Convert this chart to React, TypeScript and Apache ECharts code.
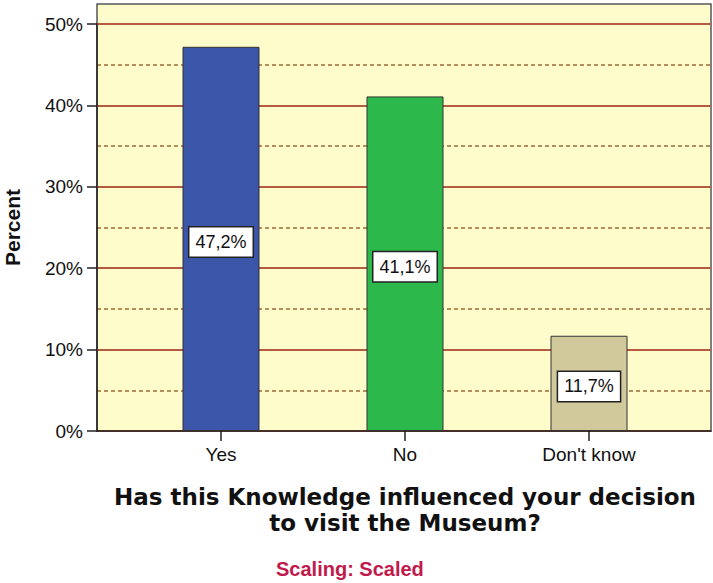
import React, { useEffect, useRef } from "react";
import * as echarts from "echarts";

const categories = ["Yes", "No", "Don't know"];
const percentValues = [47.2, 41.1, 11.7];
const barColors = ["#3b56a8", "#2db84b", "#d1c99c"];
const yMax = 50;
const yMajorStep = 10;
const yMinorStep = 5;
const axisTitle = "Has this Knowledge influenced your decision\nto visit the Museum?";
const yTitle = "Percent";
const footnote = "Scaling: Scaled";

const FONT = "'Liberation Sans', Arial, sans-serif";

export default function App() {
  const ref = useRef<HTMLDivElement>(null);
  useEffect(() => {
    document.body.style.margin = "0";
    if (!ref.current) return;
    const chart = echarts.init(ref.current, undefined, { renderer: "svg" });
    const plotBottom = 152;
    const g = { outerBoundsMode: "none", containLabel: false };
    const option: any = {
      animation: false,
      textStyle: { fontFamily: FONT },
      grid: [
        // background frame (extends above 50%)
        { ...g, left: 97, right: 2, top: 4, bottom: plotBottom, show: true, backgroundColor: "#fefccb", borderColor: "#555", borderWidth: 1.5 },
        // minor (dashed) grid lines 0..50
        { ...g, left: 97, right: 2, top: 24, bottom: plotBottom, show: false },
        // major grid lines + labels 0..50
        { ...g, left: 97, right: 2, top: 24, bottom: plotBottom, show: false },
        // bars grid
        { ...g, left: 129, right: 32, top: 24, bottom: plotBottom, show: false },
      ],
      xAxis: [
        { gridIndex: 0, type: "value", show: false },
        { gridIndex: 1, type: "value", show: false },
        { gridIndex: 2, type: "value", min: 0, max: 1, axisLabel: { show: false }, axisTick: { show: false }, splitLine: { show: false }, axisLine: { show: true, lineStyle: { color: "#222", width: 1.5 } } },
        {
          gridIndex: 3,
          type: "category",
          data: categories,
          axisLine: { show: false },
          axisTick: { show: true, alignWithLabel: true, length: 10, lineStyle: { color: "#222", width: 1.5 } },
          axisLabel: { color: "#111", fontSize: 19, fontFamily: FONT, margin: 14 },
          name: axisTitle,
          nameLocation: "middle",
          nameGap: 53,
          nameTextStyle: { fontFamily: "'DejaVu Sans', Verdana, sans-serif", fontWeight: "bold", fontSize: 23, color: "#111", lineHeight: 26, align: "center" },
        },
      ],
      yAxis: [
        { gridIndex: 0, type: "value", min: 0, max: 1, show: false },
        {
          gridIndex: 1,
          type: "value",
          min: 0,
          max: yMax,
          interval: yMinorStep,
          axisLine: { show: false },
          axisTick: { show: false },
          axisLabel: { show: false },
          splitLine: { show: true, lineStyle: { color: "#a0683a", width: 1.5, type: [4, 3] } },
        },
        {
          gridIndex: 2,
          type: "value",
          min: 0,
          max: yMax,
          interval: yMajorStep,
          axisLine: { show: true, lineStyle: { color: "#222", width: 1.5 } },
          axisTick: { show: true, length: 10, lineStyle: { color: "#222", width: 1.5 } },
          axisLabel: { color: "#111", fontSize: 19, fontFamily: FONT, margin: 14, formatter: (v: number) => v + "%" },
          splitLine: { show: true, lineStyle: { color: "#b35a40", width: 2 } },
          name: yTitle,
          nameLocation: "middle",
          nameRotate: 90,
          nameGap: 74,
          nameTextStyle: { fontFamily: FONT, fontWeight: "bold", fontSize: 21, color: "#111" },
        },
        { gridIndex: 3, type: "value", min: 0, max: yMax, show: false },
      ],
      series: [
        {
          type: "bar",
          xAxisIndex: 3,
          yAxisIndex: 3,
          barWidth: 77,
          data: percentValues.map((v, i) => ({
            value: v,
            itemStyle: { color: barColors[i], borderColor: "#333", borderWidth: 1 },
          })),
          label: {
            show: true,
            position: "inside",
            formatter: (p: any) => p.value.toFixed(1).replace(".", ",") + "%",
            backgroundColor: "#ffffff",
            borderColor: "#222",
            borderWidth: 1.5,
            padding: [6, 6, 5, 6],
            color: "#111",
            fontSize: 18,
            fontFamily: FONT,
            offset: [0, 3],
          },
        },
      ],
      graphic: [
        {
          type: "text",
          left: 276,
          top: 559,
          style: { text: footnote, fill: "#bf1a4b", font: `bold 20px ${FONT}` },
        },
      ],
    };
    chart.setOption(option);
    return () => chart.dispose();
  }, []);
  return <div ref={ref} style={{ width: 713, height: 583 }} />;
}
